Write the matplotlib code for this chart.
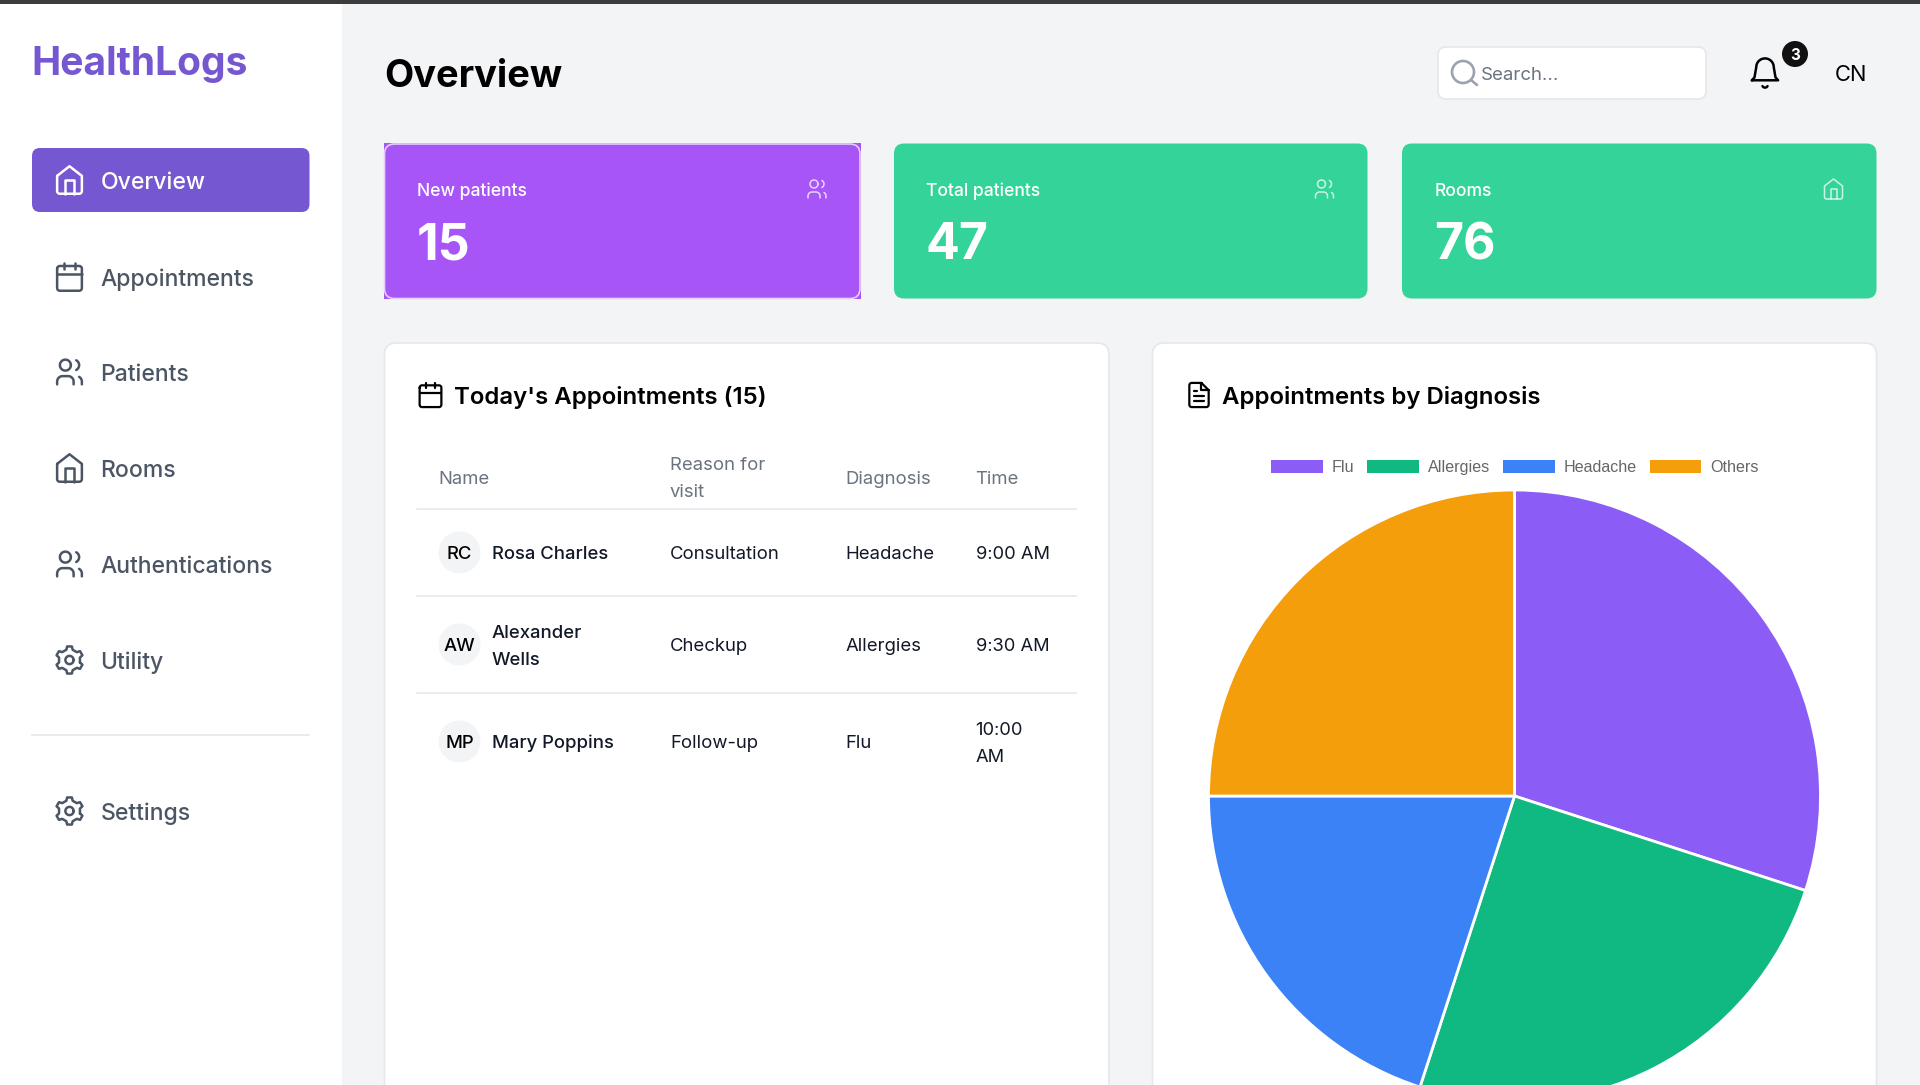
import numpy as np
from matplotlib import pyplot as plt
from matplotlib.patches import Circle, FancyBboxPatch, Patch, Rectangle

plt.rcParams['font.family'] = ['Inter', 'DejaVu Sans']

nav_labels = ['Overview', 'Appointments', 'Patients', 'Rooms', 'Authentications', 'Utility', 'Settings']
nav_icons = ['home', 'calendar', 'users', 'home', 'users', 'gear', 'gear']

stat_labels = ['New patients', 'Total patients', 'Rooms']
stat_values = ['15', '47', '76']
stat_icons = ['users', 'users', 'home']

table_headers = ['Name', 'Reason for\nvisit', 'Diagnosis', 'Time']
initials = ['RC', 'AW', 'MP']
names = ['Rosa Charles', 'Alexander\nWells', 'Mary Poppins']
reasons = ['Consultation', 'Checkup', 'Follow-up']
diagnoses = ['Headache', 'Allergies', 'Flu']
times = ['9:00 AM', '9:30 AM', '10:00\nAM']

pie_labels = ['Flu', 'Allergies', 'Headache', 'Others']
pie_values = [30, 25, 20, 25]

PIE_COLORS = ['#8b5cf6', '#10b981', '#3b82f6', '#f59e0b']
W, H = 1920, 1085

fig = plt.figure(figsize=(W / 100, H / 100), dpi=100, facecolor='#f3f4f6')
ax = fig.add_axes([0, 0, 1, 1])
ax.set_xlim(0, W)
ax.set_ylim(H, 0)
ax.axis('off')


def text(x, y, s, px, color='#000000', weight='normal', ha='left', pitch=27):
    # y is the middle of the line, lines of a wrapped text are centred on it
    lines = s.split('\n')
    top = y - pitch * (len(lines) - 1) / 2
    for i, line in enumerate(lines):
        ax.text(x, top + i * pitch + 0.36 * px, line, fontsize=px * 0.72, color=color,
                fontweight=weight, ha=ha, va='baseline', zorder=4)


def box(x0, y0, x1, y1, r, color, edge='none', lw=0, z=1):
    ax.add_patch(FancyBboxPatch((x0 + r, y0 + r), x1 - x0 - 2 * r, y1 - y0 - 2 * r,
                                boxstyle='round,pad=%f,rounding_size=%f' % (r, r),
                                fc=color, ec=edge, lw=lw, zorder=z))


def arc(cx, cy, r, a0, a1):
    a = np.radians(np.linspace(a0, a1, 24))
    return np.column_stack([cx + r * np.cos(a), cy + r * np.sin(a)])


def icon_lines(name):
    # outlines in a 24x24 box
    if name == 'home':
        body = np.vstack([[[3, 9], [12, 2], [21, 9], [21, 20]], arc(19, 20, 2, 0, 90),
                          arc(5, 20, 2, 90, 180), [[3, 9]]])
        return [body, [[9, 22], [9, 12], [15, 12], [15, 22]]]
    if name == 'users':
        return [arc(9, 7, 4, 0, 360),
                np.vstack([[[3, 21]], arc(7, 19, 4, 180, 270), arc(11, 19, 4, 270, 360), [[15, 21]]]),
                arc(15, 7, 4, -62, 62),
                np.vstack([[[21, 21]], arc(17, 19, 4, 0, -60)])]
    if name == 'calendar':
        outline = np.vstack([arc(5, 6, 2, 180, 270), arc(19, 6, 2, 270, 360),
                             arc(19, 20, 2, 0, 90), arc(5, 20, 2, 90, 180), [[3, 6]]])
        return [outline, [[16, 2], [16, 6]], [[8, 2], [8, 6]], [[3, 10], [21, 10]]]
    if name == 'gear':
        pts = []
        for d in np.arange(0, 360, 60):
            pts += [[d - 17, 7.8], [d - 10, 10.0], [d + 10, 10.0], [d + 17, 7.8]]
        pts.append(pts[0])
        pts = np.array(pts)
        outer = np.column_stack([12 + pts[:, 1] * np.cos(np.radians(pts[:, 0] + 30)),
                                 12 + pts[:, 1] * np.sin(np.radians(pts[:, 0] + 30))])
        return [outer, arc(12, 12, 3, 0, 360)]
    if name == 'file':
        outline = np.vstack([[[14, 2]], arc(6, 4, 2, 270, 180), arc(6, 20, 2, 180, 90),
                             arc(18, 20, 2, 90, 0), [[20, 8], [14, 2]]])
        return [outline, [[14, 2], [14, 8], [20, 8]], [[16, 13], [8, 13]],
                [[16, 17], [8, 17]], [[10, 9], [8, 9]]]
    if name == 'bell':
        outline = np.vstack([[[3, 17]], [[4.8, 15], [6, 8]], arc(12, 8, 6, 180, 360),
                             [[19.2, 15], [21, 17], [3, 17]]])
        return [outline, arc(12, 20, 2, 150, 30)]
    return []


def icon(name, cx, cy, size, color, lw=1.7, alpha=1.0, z=3):
    k = size / 24
    for line in icon_lines(name):
        line = np.asarray(line, dtype=float)
        ax.plot(cx + (line[:, 0] - 12) * k, cy + (line[:, 1] - 12) * k, color=color, lw=lw,
                alpha=alpha, solid_capstyle='round', solid_joinstyle='round', zorder=z)


# top strip and sidebar
ax.add_patch(Rectangle((0, 4), 342, H, fc='white', ec='none', zorder=1))
ax.add_patch(Rectangle((0, 0), W, 4, fc='#3c3c3c', ec='none', zorder=2))
text(31.5, 60.5, 'HealthLogs', 39, '#7558d1', 'bold')

box(32, 148, 309.5, 212, 8, '#7558d1', z=2)
nav_y = [180, 277, 372, 468, 564, 660, 811]
for i, label in enumerate(nav_labels):
    c = 'white' if i == 0 else '#4b5563'
    icon(nav_icons[i], 69.5, nav_y[i], 33, c, 1.8)
    text(100.5, nav_y[i] + 0.4, label, 23, c, 'medium')
ax.plot([32, 309], [735, 735], color='#e5e7eb', lw=1.2, zorder=2)

# header
text(384, 73.5, 'Overview', 38, '#000000', 'bold')
box(1438, 47, 1706, 99, 8, 'white', '#e5e7eb', 1.2, 2)
ax.add_patch(Circle((1463, 72), 11, fc='none', ec='#9ca3af', lw=1.9, zorder=3))
ax.plot([1471, 1477], [80, 85], color='#9ca3af', lw=1.9, solid_capstyle='round', zorder=3)
text(1481, 73.5, 'Search...', 18.6, '#6b7280')
icon('bell', 1765, 73, 35, '#000000', 1.8)
ax.add_patch(Circle((1795, 54), 13, fc='#111111', ec='none', zorder=3))
ax.text(1795, 60, '3', color='white', fontsize=11, fontweight='bold', ha='center', va='baseline', zorder=4)
text(1851, 73.5, 'CN', 22, '#000000', ha='center')

# stat cards
card_x = [(384.5, 860), (894, 1367.5), (1402, 1876.5)]
card_colors = ['#a855f7', '#34d399', '#34d399']
for i, (x0, x1) in enumerate(card_x):
    if i == 0:
        ax.add_patch(Rectangle((x0 - 1, 143), x1 - x0 + 2, 156, fc='#a855f7', ec='none', zorder=1))
        box(x0, 144, x1, 298.5, 10, card_colors[i], '#e3d0fb', 1.2, 2)
    else:
        box(x0, 143.5, x1, 298.5, 10, card_colors[i], z=2)
    text(x0 + 32.5, 189.5, stat_labels[i], 17.5, 'white', 'medium')
    text(x0 + 32, 241, stat_values[i], 50, 'white', 'bold')
    icon(stat_icons[i], x1 - 43, 189, 24, 'white', 1.1, 0.75)

# lower cards, they run past the bottom edge
box(384.5, 343, 1109, 1200, 12, 'white', '#e5e7eb', 1.2, 1)
box(1152.5, 343, 1876.5, 1200, 12, 'white', '#e5e7eb', 1.2, 1)

icon('calendar', 430.5, 395, 29, '#000000', 1.6)
text(454.5, 395.5, "Today's Appointments (15)", 24, '#000000', 'semibold')
icon('file', 1199, 395, 29, '#000000', 1.6)
text(1222.5, 395.5, 'Appointments by Diagnosis', 24, '#000000', 'semibold')

# table
col_x = [438, 670, 845.5, 975.5]
for x, h in zip(col_x, table_headers):
    text(x, 477, h, 18.5, '#6b7280')
for y in [509, 596, 693]:
    ax.plot([417, 1076], [y, y], color='#e5e7eb', lw=1.2, zorder=2)
row_y = [552.5, 644.5, 741.5]
for i, y in enumerate(row_y):
    ax.add_patch(Circle((459.5, y), 21, fc='#f3f4f6', ec='none', zorder=2))
    text(459.5, y, initials[i], 18.5, '#000000', 'medium', ha='center')
    text(492, y, names[i], 18.5, '#111827', 'medium')
    text(670, y, reasons[i], 18.5, '#111827')
    text(845.5, y, diagnoses[i], 18.5, '#111827')
    text(975.5, y, times[i], 18.3, '#111827')

# pie, 1.25 radii on each side of the centre is what ax.pie leaves
cx, cy, r = 1514.5, 796, 306
half = 1.25 * r
pie_ax = fig.add_axes([(cx - half) / W, 1 - (cy + half) / H, 2 * half / W, 2 * half / H], zorder=5)
pie_ax.pie(pie_values, colors=PIE_COLORS, startangle=90, counterclock=False, radius=1,
           wedgeprops={'edgecolor': 'white', 'linewidth': 2})
pie_ax.patch.set_alpha(0)

handles = [Patch(fc=c, ec='none') for c in PIE_COLORS]
fig.legend(handles, pie_labels, loc='center', bbox_to_anchor=(1515 / W, 1 - 467.5 / H), ncol=4,
           frameon=False, prop={'family': 'Liberation Sans', 'size': 11.6},
           labelcolor='#666666', handlelength=3.2, handleheight=0.85, handletextpad=0.56,
           columnspacing=0.8, borderpad=0, borderaxespad=0)

fig.savefig('out.png', dpi=100, facecolor=fig.get_facecolor())
